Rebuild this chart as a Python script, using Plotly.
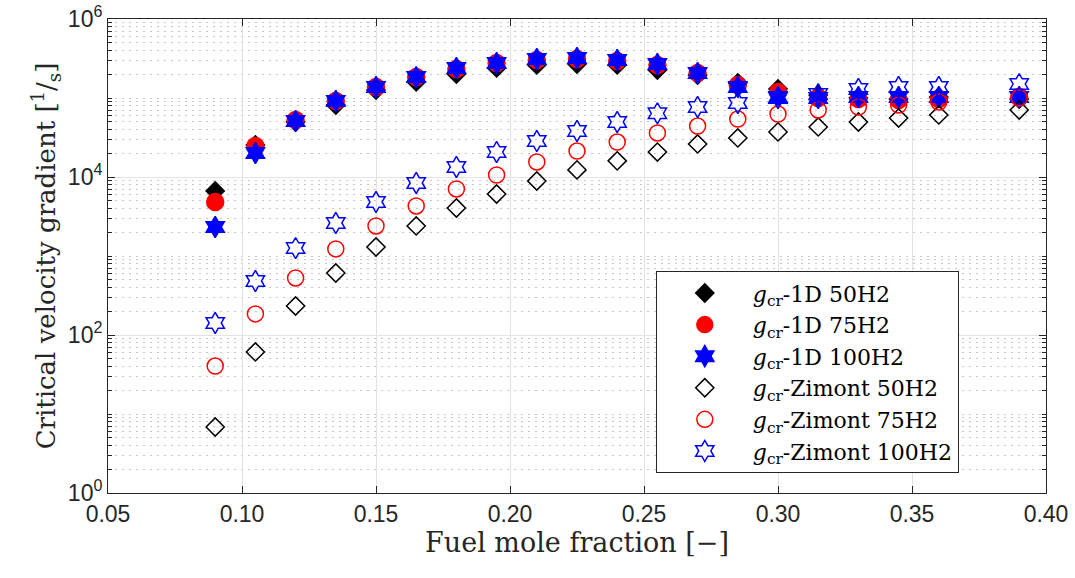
import plotly.graph_objects as go

# fuel mole fraction
x = [0.09, 0.105, 0.12, 0.135, 0.15, 0.165, 0.18, 0.195, 0.21, 0.225,
     0.24, 0.255, 0.27, 0.285, 0.30, 0.315, 0.33, 0.345, 0.36, 0.39]

# critical velocity gradient, 1D model
g1d_50 = [6650, 25400, 49700, 81500, 126000, 160000, 201000, 240000, 262000, 269000,
          262000, 226000, 195000, 155000, 130000, 109000, 100000, 97100, 103000, 97100]
g1d_75 = [4830, 24700, 52700, 91700, 138000, 184000, 233000, 277000, 303000, 312000,
          294000, 262000, 207000, 146000, 119000, 100000, 97100, 94400, 97100, 103000]
g1d_100 = [2330, 20100, 51200, 91700, 138000, 184000, 240000, 277000, 312000, 321000,
           303000, 269000, 207000, 138000, 103000, 100000, 103000, 103000, 103000, 103000]

# critical velocity gradient, Zimont
gz_50 = [6.84, 61, 233, 609, 1300, 2400, 4050, 6090, 8900, 12300,
         16000, 20700, 26200, 31200, 37200, 43000, 49700, 55800, 61000, 70500]
gz_75 = [40.5, 185, 527, 1230, 2400, 4300, 7050, 10600, 15500, 21300,
         27700, 36100, 44200, 54200, 62700, 70500, 76900, 81500, 88900, 100000]
gz_100 = [142, 483, 1260, 2620, 4830, 8400, 13400, 20700, 28600, 38200,
          49700, 64000, 76900, 86500, 100000, 112000, 130000, 138000, 138000, 150000]

y_ticks = [1, 100, 1e4, 1e6]
y_tick_text = ["10<sup>0</sup>", "10<sup>2</sup>", "10<sup>4</sup>", "10<sup>6</sup>"]
x_ticks = [0.05, 0.10, 0.15, 0.20, 0.25, 0.30, 0.35, 0.40]

gcr = "<i>g</i><sub>cr</sub>"
series = [
    (gcr + "-1D 50H2", g1d_50, "diamond", 14, "black"),
    (gcr + "-1D 75H2", g1d_75, "circle", 17, "red"),
    (gcr + "-1D 100H2", g1d_100, "hexagram", 16, "blue"),
    (gcr + "-Zimont 50H2", gz_50, "diamond-open", 14, "black"),
    (gcr + "-Zimont 75H2", gz_75, "circle-open", 16, "red"),
    (gcr + "-Zimont 100H2", gz_100, "hexagram-open", 16, "blue"),
]

fig = go.Figure()
for name, vals, sym, size, col in series:
    fig.add_trace(go.Scatter(
        x=x, y=vals, mode="markers", name=name,
        marker=dict(symbol=sym, size=size, color=col, line=dict(color=col, width=1.5)),
    ))

serif = "DejaVu Serif, serif"
axis_common = dict(
    showline=True, linecolor="#262626", linewidth=1, mirror="allticks",
    ticks="inside", tickcolor="#262626", ticklen=7, automargin=False,
    showgrid=True, gridcolor="#e3e3e3", gridwidth=1, zeroline=False,
    tickfont=dict(family="Liberation Sans, Arial", size=23, color="#262626"),
)

fig.update_xaxes(
    range=[0.05, 0.40], tickvals=x_ticks, tickformat=".2f",
    title=dict(text="Fuel mole fraction [−]", font=dict(family=serif, size=27, color="#262626"), standoff=6),
    **axis_common,
)
fig.update_yaxes(
    type="log", range=[0, 6], tickvals=y_ticks, ticktext=y_tick_text,
    minor=dict(dtick="D1", showgrid=True, griddash="2px,5px", gridcolor="#c8c8c8",
               ticks="inside", ticklen=4, tickcolor="#262626"),
    title=dict(text="Critical velocity gradient [<sup>1</sup>/<sub>s</sub>]",
               font=dict(family=serif, size=26, color="#262626"), standoff=4),
    **axis_common,
)

fig.update_layout(
    width=1075, height=578,
    margin=dict(l=108, r=29, t=19, b=85),
    plot_bgcolor="white", paper_bgcolor="white",
    legend=dict(
        x=0.584, y=0.468, xanchor="left", yanchor="top",
        bgcolor="white", bordercolor="#262626", borderwidth=1,
        font=dict(family=serif, size=22, color="black"),
        itemwidth=86,
    ),
)

# drop the default body margin so the figure sits at the page corner
fig.write_html("out.html", config={"displayModeBar": False},
               post_script="document.body.style.margin='0';")
